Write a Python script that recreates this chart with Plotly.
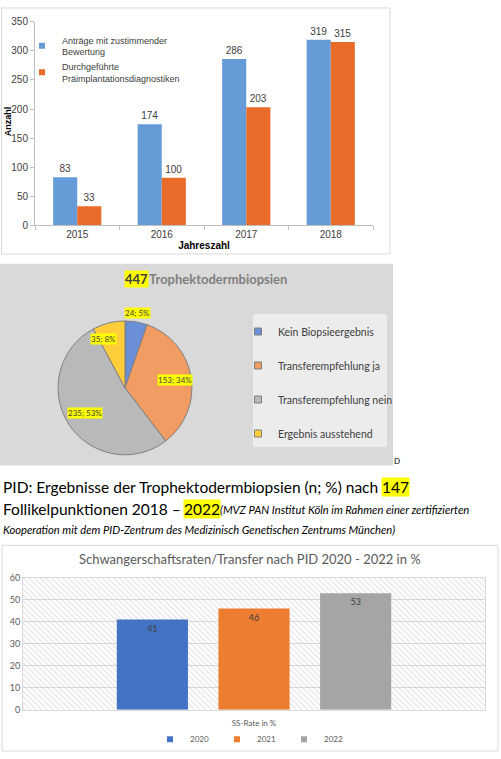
import math
import plotly.graph_objects as go

# ---------------- data ----------------
years = ["2015", "2016", "2017", "2018"]
antraege = [83, 174, 286, 319]
antraege_labels = ["83", "174", "286", "319"]
durchgefuehrt = [33, 82, 203, 315]
durchgefuehrt_labels = ["33", "100", "203", "315"]
series1_names = ["Anträge mit zustimmender<br>Bewertung",
                 "Durchgeführte<br>Präimplantationsdiagnostiken"]
series1_colors = ["#659bd6", "#e96b2a"]

pie_labels = ["Kein Biopsieergebnis", "Transferempfehlung ja",
              "Transferempfehlung nein", "Ergebnis ausstehend"]
pie_values = [24, 153, 235, 35]
pie_colors = ["#6a8fd6", "#f09c62", "#b9b9b9", "#ffcd3a"]

ss_years = ["2020", "2021", "2022"]
ss_rates = [41, 46, 53]
ss_colors = ["#4472c4", "#ed7d31", "#a5a5a5"]
ss_category = "SS-Rate in %"

W, H = 501, 759
ARIAL = "Liberation Sans, Arial"
CAL = "Lato, Open Sans"


def px(x):
    return x / W


def py(y):
    return 1 - y / H


fig = go.Figure()

# ---------------- chart 1 : grouped bars ----------------
for vals, labs, nm, col in zip([antraege, durchgefuehrt], [antraege_labels, durchgefuehrt_labels],
                               series1_names, series1_colors):
    fig.add_trace(go.Bar(x=years, y=vals, name=nm, showlegend=False,
                         marker=dict(color=col, line=dict(width=0)),
                         text=labs, textposition="outside",
                         textfont=dict(family=ARIAL, size=10, color="#404040"),
                         cliponaxis=False, xaxis="x", yaxis="y"))
for nm, col in zip(series1_names, series1_colors):
    fig.add_trace(go.Scatter(x=[None], y=[None], mode="markers", name=nm, legendgroup=nm,
                             marker=dict(symbol="square", size=6, color=col),
                             xaxis="x", yaxis="y", legend="legend"))

# ---------------- chart 2 : pie ----------------
cx, cy, r = 125, 388, 68
fig.add_trace(go.Pie(labels=pie_labels, values=pie_values, sort=False, direction="clockwise",
                     rotation=0, textinfo="none", showlegend=False,
                     marker=dict(colors=pie_colors, line=dict(color="#7f7f7f", width=1)),
                     domain=dict(x=[px(cx - r), px(cx + r)], y=[py(cy + r), py(cy - r)])))
for lab, col in zip(pie_labels, pie_colors):
    fig.add_trace(go.Scatter(x=[None], y=[None], mode="markers", name=lab, legendgroup=lab,
                             marker=dict(symbol="square", size=7, color=col,
                                         line=dict(color="#7f7f7f", width=1)),
                             xaxis="x", yaxis="y", legend="legend2"))

# ---------------- chart 3 : SS rates ----------------
y3max = 60
fig.add_trace(go.Bar(x=[0.5], y=[y3max], width=[1], showlegend=False, hoverinfo="skip",
                     marker=dict(color="rgba(0,0,0,0)", line=dict(width=0),
                                 pattern=dict(shape="\\", fillmode="overlay", fgcolor="#c8c8c8",
                                              bgcolor="rgba(0,0,0,0)", size=4, solidity=0.3)),
                     xaxis="x3", yaxis="y3"))
bar_w = 0.154
spacing = 0.22
for i, (yr, val, col) in enumerate(zip(ss_years, ss_rates, ss_colors)):
    center = (i - 1) * spacing
    fig.add_trace(go.Bar(x=[ss_category], y=[val], name=yr, width=[bar_w], offset=[center - bar_w / 2],
                         showlegend=False, marker=dict(color=col, line=dict(width=0)),
                         text=[str(val)], textposition="inside", insidetextanchor="end",
                         textfont=dict(family=CAL, size=9, color="#404040"),
                         xaxis="x4", yaxis="y4"))
for yr, col in zip(ss_years, ss_colors):
    fig.add_trace(go.Scatter(x=[None], y=[None], mode="markers", name=yr,
                             marker=dict(symbol="square", size=6, color=col),
                             xaxis="x4", yaxis="y4", legend="legend3"))

shapes = [
    dict(type="rect", xref="paper", yref="paper", x0=px(1.5), x1=px(390), y0=py(252), y1=py(2),
         line=dict(color="#d9d9d9", width=1), fillcolor="rgba(0,0,0,0)", layer="below"),
    dict(type="rect", xref="paper", yref="paper", x0=px(0), x1=px(393), y0=py(467), y1=py(262),
         line=dict(width=0), fillcolor="#d9d9d9", layer="below"),
    dict(type="rect", xref="paper", yref="paper", x0=px(253), x1=px(387), y0=py(448), y1=py(313),
         line=dict(width=0), fillcolor="#ececec", layer="below"),
    dict(type="rect", xref="paper", yref="paper", x0=px(2), x1=px(498), y0=py(757), y1=py(548),
         line=dict(color="#d9d9d9", width=1), fillcolor="rgba(0,0,0,0)", layer="below"),
]


def ann(text, x, y, size, color="#000000", family=CAL, xanchor="left", bg=None, angle=0):
    d = dict(text=text, x=px(x), y=py(y), xref="paper", yref="paper", xanchor=xanchor,
             yanchor="middle", showarrow=False, textangle=angle, borderpad=0,
             font=dict(family=family, size=size, color=color))
    if bg:
        d["bgcolor"] = bg
    return d


annotations = [
    ann("<b>Anzahl</b>", 8, 117, 9, family=ARIAL, xanchor="center", angle=-90),
    ann("<b>447</b>", 124, 277, 13, color="#404040", bg="#ffff00"),
    ann("<b>Trophektodermbiopsien</b>", 148, 277, 13, color="#7f7f7f"),
    ann("D", 397, 462, 8, xanchor="center"),
    ann("PID: Ergebnisse der Trophektodermbiopsien (n; %) nach", 2, 489, 15.5),
    ann("147", 381, 489, 15.5, bg="#ffff00"),
    ann("Follikelpunktionen 2018 –", 2, 511, 15.5),
    ann("2022", 183, 511, 15.5, bg="#ffff00"),
    ann("<i>(MVZ PAN Institut Köln im Rahmen einer zertifizierten</i>", 219, 512, 11.2),
    ann("<i>Kooperation mit dem PID-Zentrum des Medizinisch Genetischen Zentrums München)</i>",
        2, 532, 11.2),
    ann("Schwangerschaftsraten/Transfer nach PID 2020 - 2022 in %", 250, 562, 13,
        color="#595959", xanchor="center"),
]

total = sum(pie_values)
radial = [1.13, 0.74, 0.70, 0.80]
angle_nudge = [0, 0, 0, -9]
cum = 0
for v, f, dn in zip(pie_values, radial, angle_nudge):
    mid = (cum + v / 2) / total * 2 * math.pi + math.radians(dn)
    cum += v
    lx = cx + f * r * math.sin(mid)
    ly = cy - f * r * math.cos(mid)
    annotations.append(ann(f"{v}; {round(100 * v / total)}%", lx, ly, 8, color="#404040",
                           xanchor="center", bg="#ffff00"))

fig.update_layout(
    width=W, height=H, margin=dict(l=0, r=0, t=0, b=0),
    paper_bgcolor="#ffffff", plot_bgcolor="rgba(0,0,0,0)",
    barmode="group", bargap=0.43, bargroupgap=0,
    shapes=shapes, annotations=annotations,
    xaxis=dict(domain=[px(35), px(373)], anchor="y", type="category",
               showline=True, linecolor="#bfbfbf", ticks="outside", tickson="boundaries",
               ticklen=4, tickcolor="#bfbfbf", showgrid=False,
               tickfont=dict(family=ARIAL, size=10, color="#404040"),
               title=dict(text="<b>Jahreszahl</b>", standoff=2,
                          font=dict(family=ARIAL, size=10, color="#000000"))),
    yaxis=dict(domain=[py(223), py(16)], anchor="x", range=[0, 350], dtick=50,
               showline=True, linecolor="#bfbfbf", ticks="outside", ticklen=4, tickcolor="#bfbfbf",
               showgrid=False, zeroline=False,
               tickfont=dict(family=ARIAL, size=10, color="#404040")),
    xaxis3=dict(domain=[px(23), px(485)], anchor="y3", range=[0, 1], visible=False, fixedrange=True),
    yaxis3=dict(domain=[py(715), py(581)], anchor="x3", range=[0, y3max], visible=False),
    xaxis4=dict(overlaying="x3", anchor="y4", type="category", range=[-0.5, 0.5],
                showline=True, mirror=True, linecolor="#d9d9d9", ticks="",
                ticklabelstandoff=6,
                tickfont=dict(family=CAL, size=8, color="#595959")),
    yaxis4=dict(overlaying="y3", anchor="x4", range=[0, y3max], dtick=10,
                showline=True, mirror=True, linecolor="#d9d9d9",
                showgrid=True, gridcolor="#d9d9d9", zeroline=False,
                tickfont=dict(family=CAL, size=9, color="#595959")),
    legend=dict(x=px(22), y=py(22), xanchor="left", yanchor="top", bgcolor="rgba(0,0,0,0)",
                font=dict(family=ARIAL, size=9, color="#404040"), tracegroupgap=0),
    legend2=dict(x=px(238), y=py(316), xanchor="left", yanchor="top", bgcolor="rgba(0,0,0,0)",
                 font=dict(family=CAL, size=10.5, color="#404040"), tracegroupgap=15),
    legend3=dict(orientation="h", x=0.5, xanchor="center", y=py(745), yanchor="middle",
                 bgcolor="rgba(0,0,0,0)", font=dict(family=CAL, size=8, color="#595959"),
                 entrywidth=22),
)

fig.write_html("out.html", config={"displayModeBar": False},
               post_script="document.body.style.margin='0';")
